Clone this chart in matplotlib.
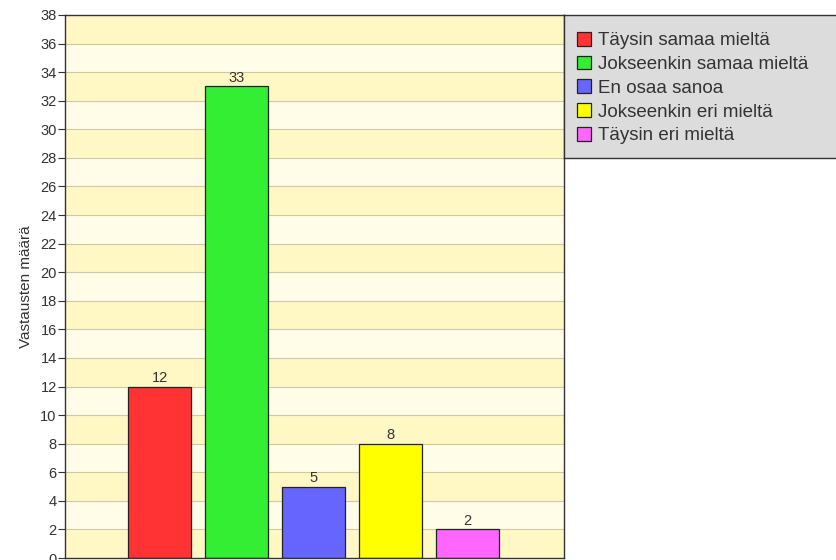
import matplotlib.pyplot as plt
from matplotlib.patches import Patch

categories = ["Täysin samaa mieltä", "Jokseenkin samaa mieltä", "En osaa sanoa",
              "Jokseenkin eri mieltä", "Täysin eri mieltä"]
counts = [12, 33, 5, 8, 2]
colors = ["#ff3333", "#33ee33", "#6666ff", "#ffff00", "#ff66ff"]
y_ticks = list(range(0, 39, 2))

plt.rcParams['font.family'] = ['Liberation Sans', 'DejaVu Sans']

fig = plt.figure(figsize=(8.37, 5.6), dpi=100)
ax = fig.add_axes([65 / 837, 2 / 560, 499 / 837, 543 / 560])

# alternating yellow bands behind the grid
for i, lo in enumerate(y_ticks[:-1]):
    ax.axhspan(lo, lo + 2, color="#fff8c4" if i % 2 == 0 else "#fffde8", zorder=0, lw=0)
for y in y_ticks[1:-1]:
    ax.axhline(y, color="#cfc9a8", lw=0.8, zorder=1)

x = list(range(len(counts)))
ax.bar(x, counts, width=0.82, color=colors, edgecolor="#222222", linewidth=0.9, zorder=2)
for xi, v in zip(x, counts):
    ax.text(xi, v + 0.12, str(v), ha="center", va="bottom", fontsize=10.5, color="#333333")

ax.set_xlim(-1.23, 5.25)
ax.set_ylim(0, 38)
ax.set_yticks(y_ticks)
ax.set_xticks([])
ax.tick_params(axis="y", labelsize=10.5, colors="#333333", length=5, width=0.8, pad=1)
for s in ax.spines.values():
    s.set_color("#333333")
    s.set_linewidth(1.0)
ax.set_ylabel("Vastausten määrä", fontsize=11, color="#333333", labelpad=5)

# legend box on the right
lax = fig.add_axes([564 / 837, (560 - 158) / 560, 273 / 837, 143 / 560])
lax.set_facecolor("#dcdcdc")
lax.set_xticks([])
lax.set_yticks([])
for s in lax.spines.values():
    s.set_color("#333333")
    s.set_linewidth(1.0)
handles = [Patch(facecolor=c, edgecolor="#222222", linewidth=0.9) for c in colors]
lax.legend(handles, categories, loc="upper left", bbox_to_anchor=(0.02, 0.935),
           frameon=False, fontsize=13.5, handlelength=0.75, handleheight=0.75,
           handletextpad=0.37, labelspacing=0.34, borderaxespad=0, labelcolor="#333333")

fig.savefig("out.png", dpi=100)
